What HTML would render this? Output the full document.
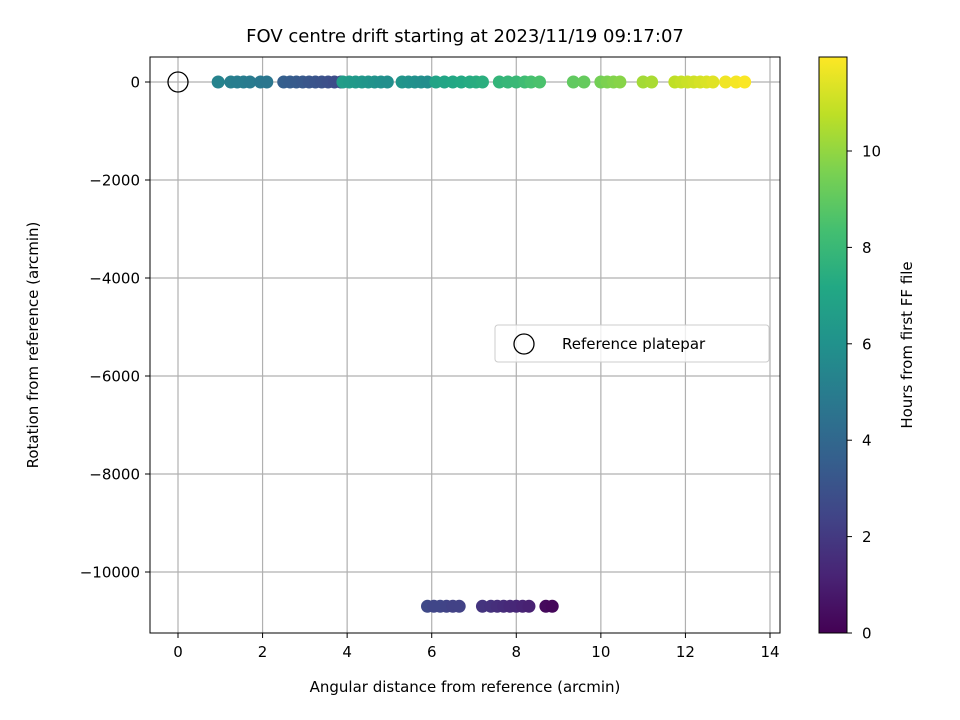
<!DOCTYPE html>
<html><head><meta charset="utf-8"><style>
body{margin:0;background:#fff;}
svg{display:block;font-family:"DejaVu Sans","Liberation Sans",sans-serif;}
</style></head><body>
<svg id="chart" width="960" height="720" viewBox="0 0 960 720" xmlns="http://www.w3.org/2000/svg">
<defs>
<linearGradient id="vir" x1="0" y1="1" x2="0" y2="0">
<stop offset="0" stop-color="#440154"/><stop offset="0.1" stop-color="#482475"/><stop offset="0.2" stop-color="#414487"/><stop offset="0.3" stop-color="#355f8d"/><stop offset="0.4" stop-color="#2a788e"/><stop offset="0.5" stop-color="#21918c"/><stop offset="0.6" stop-color="#22a884"/><stop offset="0.7" stop-color="#44bf70"/><stop offset="0.8" stop-color="#7ad151"/><stop offset="0.9" stop-color="#bddf26"/><stop offset="1" stop-color="#fde725"/>
</linearGradient>
<clipPath id="clip"><rect x="150" y="57" width="630" height="576"/></clipPath>
</defs>
<text x="465" y="42" font-size="18" text-anchor="middle">FOV centre drift starting at 2023/11/19 09:17:07</text>
<g id="grid"></g>
<g id="points" clip-path="url(#clip)"></g>
<rect x="150" y="57" width="630" height="576" fill="none" stroke="#000" stroke-width="1"/>
<g id="axes"></g>
<text x="465" y="692" font-size="15" text-anchor="middle">Angular distance from reference (arcmin)</text>
<text transform="translate(38,345) rotate(-90)" font-size="15" text-anchor="middle">Rotation from reference (arcmin)</text>
<g>
<rect x="495" y="325" width="274" height="37" rx="3" fill="#fff" fill-opacity="0.8" stroke="#ccc"/>
<circle cx="524" cy="344" r="10" fill="none" stroke="#000" stroke-width="1.3"/>
<text x="562" y="349" font-size="15">Reference platepar</text>
</g>
<rect x="819" y="57" width="28" height="576" fill="url(#vir)" stroke="#000"/>
<g id="cbticks"></g>
<text transform="translate(912,345) rotate(-90)" font-size="15" text-anchor="middle">Hours from first FF file</text>
</svg>
<script>
const xTicks=[0,2,4,6,8,10,12,14];
const yTicks=[0,-2000,-4000,-6000,-8000,-10000];
const cbTicks=[0,2,4,6,8,10];
const topDist=[0.95,1.25,1.4,1.55,1.7,1.95,2.1,2.5,2.65,2.8,2.95,3.1,3.25,3.4,3.55,3.7,3.85,3.9,4.05,4.2,4.35,4.5,4.65,4.8,4.95,5.3,5.45,5.6,5.75,5.9,6.1,6.3,6.5,6.7,6.9,7.05,7.2,7.6,7.8,8.0,8.2,8.35,8.55,9.35,9.6,10.0,10.15,10.3,10.45,11.0,11.2,11.75,11.9,12.05,12.2,12.35,12.5,12.65,12.95,13.2,13.4];
const topHours=[5.3,5.1,5.0,5.0,4.9,4.8,4.7,3.6,3.5,3.4,3.3,3.2,3.1,3.0,2.9,2.8,2.7,6.6,6.5,6.4,6.3,6.2,6.1,6.0,5.9,6.2,6.1,6.0,5.9,5.8,6.9,7.0,7.1,7.2,7.3,7.4,7.5,7.8,7.9,8.0,8.2,8.4,8.5,9.0,9.1,9.4,9.6,9.7,9.8,10.3,10.4,10.8,10.9,11.0,11.1,11.2,11.3,11.4,11.7,11.8,11.9];
const botDist=[5.9,6.05,6.2,6.35,6.5,6.65,7.2,7.4,7.55,7.7,7.85,8.0,8.15,8.3,8.7,8.85];
const botHours=[2.6,2.5,2.5,2.4,2.3,2.3,1.8,1.7,1.6,1.5,1.4,1.3,1.2,1.1,0.3,0.2];
const topRot=0, botRot=-10700;
const ns="http://www.w3.org/2000/svg";
const X=v=>178+v*(770-178)/14;
const Y=v=>82-v*0.049;
const C=h=>633-h*48.2;
const vir=["#440154","#482475","#414487","#355f8d","#2a788e","#21918c","#22a884","#44bf70","#7ad151","#bddf26","#fde725"];
function col(h){let t=Math.max(0,Math.min(1,h/11.95))*10;let i=Math.min(9,Math.floor(t));let f=t-i;
const a=vir[i],b=vir[i+1];const p=s=>[1,3,5].map(k=>parseInt(s.substr(k,2),16));
const A=p(a),B=p(b);return "rgb("+A.map((v,k)=>Math.round(v+(B[k]-v)*f)).join(",")+")";}
function mk(tag,attrs,parent){const e=document.createElementNS(ns,tag);for(const k in attrs)e.setAttribute(k,attrs[k]);parent.appendChild(e);return e;}
const grid=document.getElementById('grid'),axes=document.getElementById('axes'),pts=document.getElementById('points'),cb=document.getElementById('cbticks');
xTicks.forEach(v=>{
 const g=mk('line',{x1:X(v),x2:X(v),y1:57,y2:633,stroke:'#b0b0b0','stroke-width':1.2},grid);
 
 mk('line',{x1:X(v),x2:X(v),y1:633,y2:638,stroke:'#000'},axes);
 const t=mk('text',{x:X(v),y:657,'font-size':15,'text-anchor':'middle'},axes);
 
 t.textContent=v;
});
yTicks.forEach(v=>{
 const g=mk('line',{x1:150,x2:780,y1:Y(v),y2:Y(v),stroke:'#b0b0b0','stroke-width':1.2},grid);
 
 mk('line',{x1:145,x2:150,y1:Y(v),y2:Y(v),stroke:'#000'},axes);
 const t=mk('text',{x:140,y:Y(v)+5.5,'font-size':15,'text-anchor':'end'},axes);
 
 t.textContent=v<0?'\u2212'+(-v):v;
});
cbTicks.forEach(v=>{
 mk('line',{x1:847,x2:852,y1:C(v),y2:C(v),stroke:'#000'},cb);
 const t=mk('text',{x:862,y:C(v)+5.5,'font-size':15},cb);
 
 t.textContent=v;
});
function draw(d,h,r){d.forEach((v,i)=>{
 const c=mk('circle',{cx:X(v),cy:Y(r),r:6.5,fill:col(h[i])},pts);
 
});}
draw(topDist,topHours,topRot);
draw(botDist,botHours,botRot);
const ref=mk('circle',{cx:X(0),cy:Y(0),r:10,fill:'none',stroke:'#000','stroke-width':1.3},pts);


</script>
</body></html>
